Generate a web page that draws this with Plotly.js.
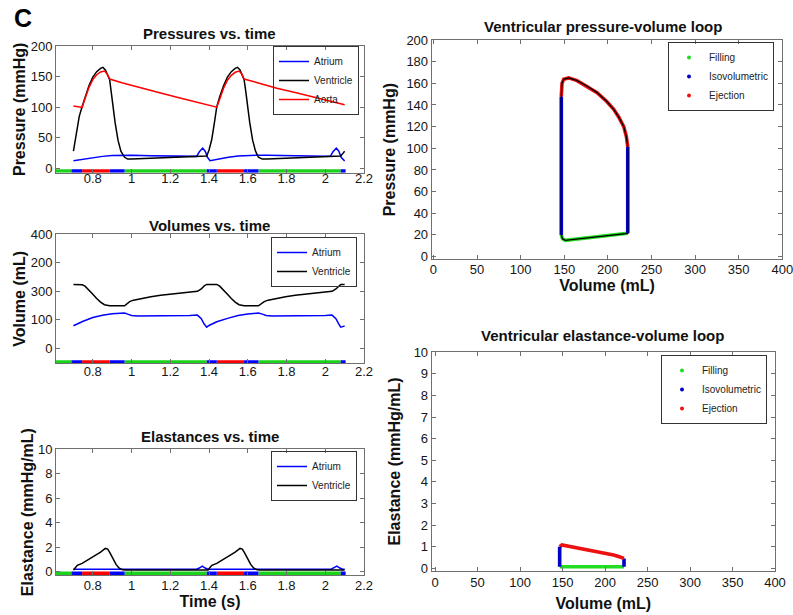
<!DOCTYPE html>
<html>
<head>
<meta charset="utf-8">
<script src="https://cdn.plot.ly/plotly-3.0.1.min.js"></script>
<style>
html,body{margin:0;padding:0;background:#fff;}
#chart{width:793px;height:615px;}
</style>
</head>
<body>
<div id="chart"></div>
<script>
// ---------------- DATA ----------------
// Pressures vs. time (s, mmHg)
const tVentP = [0.70,0.715,0.73,0.745,0.76,0.78,0.80,0.82,0.84,0.852,0.865,0.877,0.887,0.895,0.904,0.915,0.93,0.945,0.964,0.98,1.00,1.10,1.20,1.30,1.36,1.388,1.40,1.414,1.428,1.44,1.455,1.475,1.495,1.515,1.535,1.547,1.56,1.572,1.581,1.59,1.599,1.61,1.625,1.64,1.655,1.675,1.70,1.80,1.90,2.00,2.06,2.08,2.09,2.10];
const pVent  = [28,58,85,101,117,135,149,158,163.5,165,161,153,145,125,101,75,46,28,18,15,15,16,17,18,19,20,30,47,75,101,117,135,149,158,163.5,165,161,153,145,125,101,75,46,28,18,15,15,16,17,18,19,20,24,28];
const tAortaP = [0.70,0.72,0.745,0.76,0.78,0.80,0.82,0.84,0.861,0.875,0.887,0.95,1.05,1.15,1.25,1.35,1.44,1.455,1.475,1.495,1.515,1.535,1.556,1.57,1.581,1.65,1.75,1.85,1.95,2.05,2.10];
const pAorta  = [102,100.5,99.5,114,132,145,153,157.5,159,154,146,140,131,123,115,107,100,113,131,144,152,157,159,154,146,140,131,123.5,116,108.5,104];
const tAtrP = [0.70,0.75,0.80,0.85,0.90,0.95,1.00,1.10,1.20,1.30,1.336,1.35,1.367,1.38,1.392,1.405,1.45,1.50,1.55,1.60,1.65,1.70,1.80,1.90,2.00,2.026,2.04,2.057,2.07,2.082,2.095,2.10];
const pAtr  = [12.5,15,17.5,19.5,21,21.5,21.5,20.5,20,19.5,19.5,27,33,28,18,12.5,15.5,18,20,21,21.5,21.5,20.5,20,19.5,19.5,27,33,28,18,12.5,12];

// Volumes vs. time (s, mL)
const tVentV = [0.70,0.745,0.76,0.78,0.80,0.82,0.84,0.86,0.875,0.887,0.964,0.975,0.99,1.01,1.05,1.10,1.15,1.20,1.25,1.30,1.34,1.36,1.375,1.388,1.44,1.455,1.475,1.495,1.515,1.535,1.555,1.57,1.581,1.655,1.67,1.685,1.705,1.745,1.795,1.845,1.895,1.945,1.995,2.035,2.055,2.07,2.08,2.10];
const vVent  = [223.5,223,218,205,190,175,162,153,149.5,149,149,156,164,169,175,181,186,190,194,197,200,208,219,224,224,218,205,190,175,162,153,149.5,149,149,156,164,169,175,181,186,190,194,197,200,208,219,224,224];
const tAtrV = [0.70,0.75,0.80,0.85,0.90,0.95,0.964,0.98,1.00,1.03,1.10,1.20,1.30,1.34,1.36,1.375,1.388,1.40,1.44,1.50,1.55,1.60,1.655,1.675,1.695,1.725,1.80,1.90,2.00,2.035,2.055,2.07,2.08,2.09,2.10];
const vAtr  = [79,95,108,116,121,123.5,123.5,120,115.5,113,113,113.5,115.5,116.5,104,85,74,80,93,106,115,120,123.5,120,115.5,113,113,113.5,115.5,116.5,104,85,74,76,78];

// Elastances vs. time (s, mmHg/mL)
const tVentE = [0.70,0.71,0.72,0.745,0.78,0.81,0.84,0.865,0.877,0.89,0.905,0.92,0.935,0.95,0.964,1.395,1.405,1.415,1.44,1.475,1.505,1.535,1.56,1.572,1.585,1.60,1.615,1.63,1.645,1.66,2.10];
const eVent  = [0.14,0.35,0.52,0.68,1.0,1.3,1.6,1.9,1.85,1.5,1.05,0.6,0.3,0.17,0.14,0.14,0.35,0.52,0.68,1.0,1.3,1.6,1.9,1.85,1.5,1.05,0.6,0.3,0.17,0.14,0.14];
const tAtrE = [0.70,1.335,1.35,1.365,1.38,1.395,2.03,2.045,2.06,2.075,2.09,2.10];
const eAtr  = [0.2,0.2,0.3,0.46,0.3,0.2,0.2,0.3,0.46,0.3,0.2,0.2];

// Cardiac phases (time-axis colour bar)
const phaseStart = [0.60,0.69,0.745,0.887,0.964,1.388,1.44,1.581,1.655,2.08];
const phaseEnd   = [0.69,0.745,0.887,0.964,1.388,1.44,1.581,1.655,2.08,2.105];
const phaseType  = ['Filling','Isovolumetric','Ejection','Isovolumetric','Filling','Isovolumetric','Ejection','Isovolumetric','Filling','Isovolumetric'];

// Ventricular pressure-volume loop (mL, mmHg)
const pvFillVol = [146.6,148,151.2,160,180,200,222.8];
const pvFillPres = [20,16.5,15,15.8,17.5,19.3,21.5];
const pvIvcVol = [222.8,222.8];
const pvIvcPres = [21.5,101.5];
const pvEjVol = [222.8,221.2,218.2,212.4,206.7,199,187.6,176,164.6,155,149.3,147.4,146.6];
const pvEjPres = [101.5,110.8,120,129,136,143,151.4,157.5,162.5,165,163.7,160,147.7];
const pvIvrVol = [146.6,146.6];
const pvIvrPres = [147.7,20];

// Ventricular elastance-volume loop (mL, mmHg/mL)
const evFillVol = [146.6,222.3];
const evFillEl = [0.07,0.07];
const evIvcVol = [222.3,222.3];
const evIvcEl = [0.07,0.46];
const evEjVol = [222.3,220,215,210,200,190.6,180,171,162,155,149.3,146.6];
const evEjEl = [0.46,0.5,0.56,0.62,0.7,0.77,0.84,0.9,0.97,1.03,1.08,1.0];
const evIvrVol = [146.6,146.6];
const evIvrEl = [1.0,0.07];

// Tick values / labels
const timeTicks = [0.8,1,1.2,1.4,1.6,1.8,2,2.2];
const timeTickText = ['0.8','1','1.2','1.4','1.6','1.8','2','2.2'];
const pressureTicks = [0,50,100,150,200];
const volumeTicks = [0,100,200,300,400];
const volumeTickText = ['0','100','300','200','400'];
const elastanceTicks = [0,2,4,6,8,10];
const loopVolumeTicks = [0,50,100,150,200,250,300,350,400];
const loopPressureTicks = [0,20,40,60,80,100,120,140,160,180,200];
const loopElastanceTicks = [0,1,2,3,4,5,6,7,8,9,10];

// ---------------- STYLE / LAYOUT ----------------
const W = 793, H = 615;
const FONT = "'Liberation Sans', Arial, Helvetica, sans-serif";
const COL = {Filling:'#19d219', Isovolumetric:'#0000ff', Ejection:'#ff0000'};
const LOOPCOL = {Filling:'#22dd22', Isovolumetric:'#0000c8', Ejection:'#ee1111'};

function xd(l, r){ return [l/W, r/W]; }
function yd(t, b){ return [1 - b/H, 1 - t/H]; }

function axis(extra){
  return Object.assign({
    showline:true, linecolor:'#707070', linewidth:1, mirror:'ticks',
    ticks:'inside', ticklen:4, tickwidth:1, tickcolor:'#707070',
    showgrid:false, zeroline:false, fixedrange:true, ticklabeloverflow:'allow',
    tickfont:{family:FONT, size:13, color:'#151515'}
  }, extra);
}
function atitle(text, standoff){
  return {text:text, standoff:standoff, font:{family:FONT, size:16, weight:'bold', color:'#111'}};
}

const traces = [];

// phase colour bar in each time panel
function phaseBar(xa, ya, level){
  ['Filling','Ejection','Isovolumetric'].forEach(function(ph){
    const xs = [], ys = [];
    for (let i = 0; i < phaseType.length; i++){
      if (phaseType[i] === ph){ xs.push(phaseStart[i], phaseEnd[i], null); ys.push(level, level, null); }
    }
    traces.push({x:xs, y:ys, xaxis:xa, yaxis:ya, mode:'lines', showlegend:false, hoverinfo:'skip',
      line:{color:COL[ph], width:3.6}});
  });
}

// Panel 1: pressures
traces.push({x:tAtrP, y:pAtr, xaxis:'x', yaxis:'y', mode:'lines', name:'Atrium', legend:'legend', line:{color:'#0000ff', width:1.5}});
traces.push({x:tVentP, y:pVent, xaxis:'x', yaxis:'y', mode:'lines', name:'Ventricle', legend:'legend', line:{color:'#000000', width:1.5}});
traces.push({x:tAortaP, y:pAorta, xaxis:'x', yaxis:'y', mode:'lines', name:'Aorta', legend:'legend', line:{color:'#ff0000', width:1.5}});
phaseBar('x', 'y', -4.3);

// Panel 2: volumes
traces.push({x:tAtrV, y:vAtr, xaxis:'x2', yaxis:'y2', mode:'lines', name:'Atrium', legend:'legend2', line:{color:'#0000ff', width:1.5}});
traces.push({x:tVentV, y:vVent, xaxis:'x2', yaxis:'y2', mode:'lines', name:'Ventricle', legend:'legend2', line:{color:'#000000', width:1.5}});
phaseBar('x2', 'y2', -48);

// Panel 3: elastances
traces.push({x:tAtrE, y:eAtr, xaxis:'x3', yaxis:'y3', mode:'lines', name:'Atrium', legend:'legend3', line:{color:'#0000ff', width:1.5}});
traces.push({x:tVentE, y:eVent, xaxis:'x3', yaxis:'y3', mode:'lines', name:'Ventricle', legend:'legend3', line:{color:'#000000', width:1.5}});
phaseBar('x3', 'y3', -0.13);

// Panels 4 & 5: loops
function loopPanel(xa, ya, lg, fv, fy, iv, iy, ev, ey, rv, ry, bandW, blackLine){
  const segs = [['Filling', fv, fy], ['Isovolumetric', iv, iy], ['Ejection', ev, ey], ['Isovolumetric', rv, ry]];
  segs.forEach(function(s){
    traces.push({x:s[1], y:s[2], xaxis:xa, yaxis:ya, mode:'lines', showlegend:false, hoverinfo:'skip',
      line:{color:LOOPCOL[s[0]], width:bandW}});
  });
  if (blackLine){
    traces.push({x:fv.concat(iv, ev, rv), y:fy.concat(iy, ey, ry), xaxis:xa, yaxis:ya, mode:'lines',
      showlegend:false, hoverinfo:'skip', line:{color:'#000', width:1.3}});
  }
  ['Filling','Isovolumetric','Ejection'].forEach(function(ph){
    traces.push({x:[null], y:[null], xaxis:xa, yaxis:ya, mode:'markers', name:ph, legend:lg,
      marker:{color:LOOPCOL[ph], size:4}});
  });
}
loopPanel('x4','y4','legend4', pvFillVol,pvFillPres, pvIvcVol,pvIvcPres, pvEjVol,pvEjPres, pvIvrVol,pvIvrPres, 3.6, true);
loopPanel('x5','y5','legend5', evFillVol,evFillEl, evIvcVol,evIvcEl, evEjVol,evEjEl, evIvrVol,evIvrEl, 3.6, false);

function legendBox(rightPx, topPx){
  return {x:rightPx/W, xanchor:'right', y:1 - topPx/H, yanchor:'top',
    bgcolor:'rgba(255,255,255,0)', bordercolor:'#333', borderwidth:1,
    font:{family:FONT, size:10, color:'#222'}, tracegroupgap:0, itemclick:false, itemdoubleclick:false};
}

function ttl(text, cx, cy){
  return {text:text, x:cx/W, y:1-cy/H, xref:'paper', yref:'paper', xanchor:'center', yanchor:'middle', showarrow:false,
    font:{family:FONT, size:15, weight:'bold', color:'#111'}};
}

const LX = xd(56, 364);
const layout = {
  width:W, height:H, margin:{l:0, r:0, t:0, b:0},
  paper_bgcolor:'#fff', plot_bgcolor:'#fff', showlegend:true,
  font:{family:FONT, color:'#111'},
  xaxis: axis({domain:LX, anchor:'y', range:[0.61,2.2], tickvals:timeTicks, ticktext:timeTickText, ticklabelstandoff:-6}),
  yaxis: axis({domain:yd(46,172.7), anchor:'x', range:[-7.2,200], tickvals:pressureTicks, title:atitle('Pressure (mmHg)', 1)}),
  xaxis2: axis({domain:LX, anchor:'y2', range:[0.61,2.2], tickvals:timeTicks, ticktext:timeTickText, ticklabelstandoff:-4}),
  yaxis2: axis({domain:yd(234.3,363.3), anchor:'x2', range:[-52.6,400], tickvals:volumeTicks, ticktext:volumeTickText, title:atitle('Volume (mL)', 1)}),
  xaxis3: axis({domain:LX, anchor:'y3', range:[0.61,2.2], tickvals:timeTicks, ticktext:timeTickText, ticklabelstandoff:-2, title:atitle('Time (s)', 1)}),
  yaxis3: axis({domain:yd(449.3,575), anchor:'x3', range:[-0.27,10], tickvals:elastanceTicks, title:atitle('Elastance (mmHg/mL)', 0)}),
  xaxis4: axis({domain:xd(431.7,782.3), anchor:'y4', range:[-2,400], tickvals:loopVolumeTicks, ticklabelstandoff:-2, title:atitle('Volume (mL)', 0)}),
  yaxis4: axis({domain:yd(40,259.3), anchor:'x4', range:[-2.5,200], tickvals:loopPressureTicks, title:atitle('Pressure (mmHg)', 6)}),
  xaxis5: axis({domain:xd(431.7,775), anchor:'y5', range:[-4,400], tickvals:loopVolumeTicks, ticklabelstandoff:0, title:atitle('Volume (mL)', 8)}),
  yaxis5: axis({domain:yd(352.3,570.7), anchor:'x5', range:[-0.11,10], tickvals:loopElastanceTicks, title:atitle('Elastance (mmHg/mL)', 9)}),
  legend: legendBox(359, 46),
  legend2: legendBox(357, 237),
  legend3: legendBox(357, 451),
  legend4: legendBox(774, 42),
  legend5: legendBox(767, 355),
  annotations: [
    {text:'C', x:22.5/W, y:1-18/H, xref:'paper', yref:'paper', xanchor:'center', yanchor:'middle', showarrow:false,
      font:{family:FONT, size:25, weight:'bold', color:'#000'}},
    ttl('Pressures vs. time', 210, 33),
    ttl('Volumes vs. time', 210, 225),
    ttl('Elastances vs. time', 210, 436.7),
    ttl('Ventricular pressure-volume loop', 602.5, 26.7),
    ttl('Ventricular elastance-volume loop', 602, 335)
  ]
};

Plotly.newPlot('chart', traces, layout, {staticPlot:true, displayModeBar:false, responsive:false});
</script>
</body>
</html>
